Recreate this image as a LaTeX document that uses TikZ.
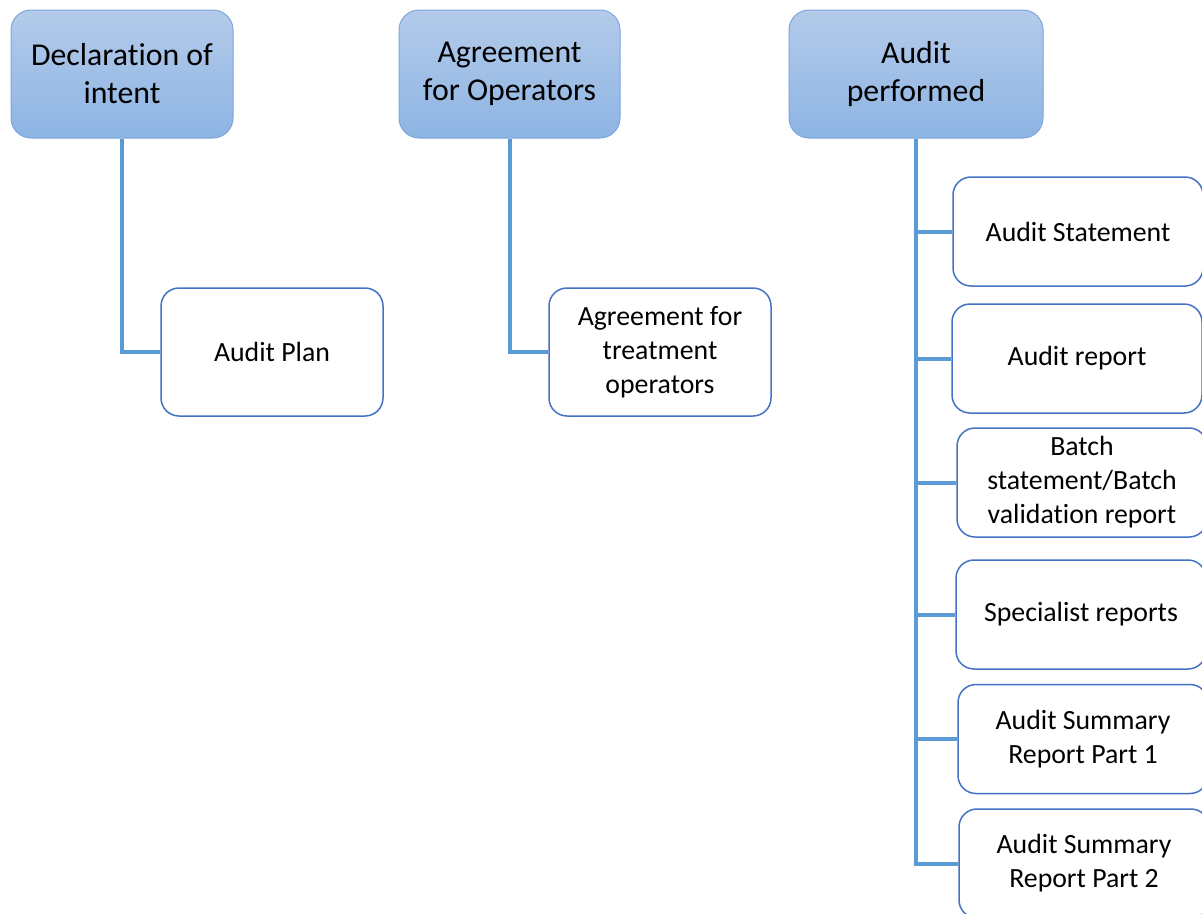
\documentclass[tikz,border=0pt]{standalone}
\usepackage{fontspec}
\setmainfont{Carlito}[Ligatures=NoCommon]
\definecolor{hdtop}{RGB}{180,203,234}
\definecolor{hdbot}{RGB}{141,180,227}
\definecolor{hdline}{RGB}{125,166,221}
\definecolor{boxline}{RGB}{68,114,196}
\definecolor{conn}{RGB}{91,155,213}
\tikzset{
  header/.style={draw=hdline, line width=1pt, rounded corners=20pt, top color=hdtop, bottom color=hdbot,
    minimum height=128pt, align=center, font=\fontsize{31.8}{38}\selectfont, inner sep=0pt},
  child/.style={draw=boxline, line width=1.5pt, rounded corners=18pt, fill=white,
    minimum width=222pt, minimum height=128pt, align=center, font=\fontsize{27.8}{34}\selectfont, inner sep=0pt},
  rchild/.style={child, minimum width=250pt, minimum height=109pt},
  link/.style={draw=conn, line width=4pt}
}
\begin{document}
\begin{tikzpicture}[x=1pt,y=-1pt]
\useasboundingbox (0,0) rectangle (1202,913);
\clip (0,0) rectangle (1202,913);
\fill[white] (0,0) rectangle (1202,913);
% headers
\node[header, minimum width=222pt] (h1) at (122,74) {Declaration of\\intent};
\node[header, minimum width=221pt] (h2) at (509.5,74) {Agreement\\for Operators};
\node[header, minimum width=254pt] (h3) at (916,74) {Audit\\performed};
% children
\node[child] (c1) at (272,352) {Audit Plan};
\node[child] (c2) at (660,352) {Agreement for\\treatment\\operators};
\node[rchild] (r1) at (1078,231.5) {Audit Statement};
\node[rchild] (r2) at (1077,358.5) {Audit report};
\node[rchild] (r3) at (1082,482.5) {Batch\\statement/Batch\\validation report};
\node[rchild] (r4) at (1081,614.5) {Specialist reports};
\node[rchild] (r5) at (1083,739) {Audit Summary\\Report Part 1};
\node[rchild] (r6) at (1084,863.5) {Audit Summary\\Report Part 2};
% connectors
\draw[link] (h1.south) |- (c1.west);
\draw[link] (h2.south) |- (c2.west);
\foreach \r in {r1,r2,r3,r4,r5,r6}{
  \draw[link] (h3.south) |- (\r.west);
}
\end{tikzpicture}
\end{document}
